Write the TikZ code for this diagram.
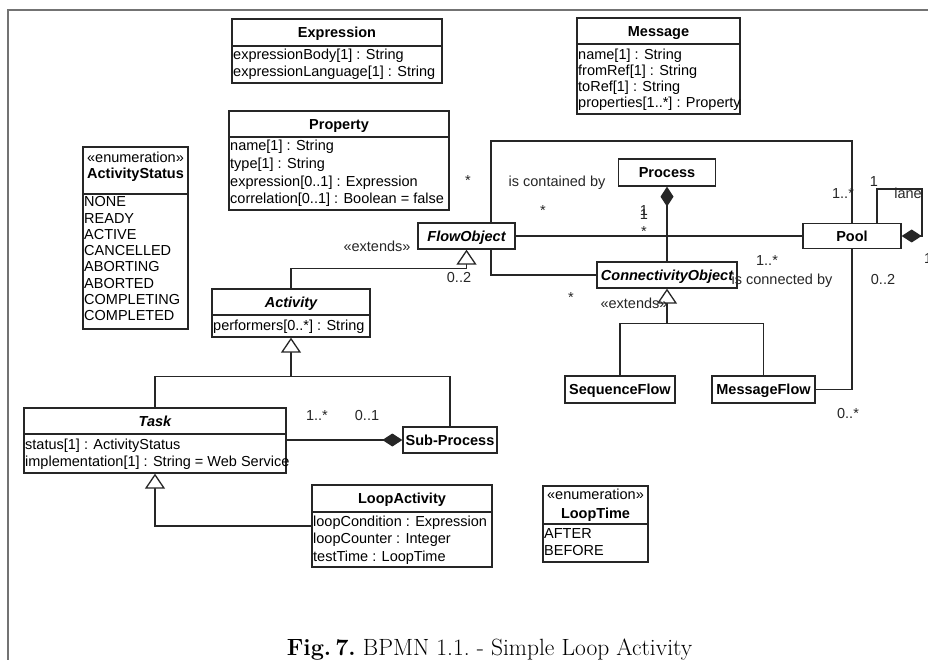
\documentclass[tikz,border=0pt]{standalone}
\usepackage{fontspec}
\newfontfamily\umlfont{Liberation Sans}
\usetikzlibrary{arrows.meta,calc,fit}

\tikzset{
  uml/.style={font=\umlfont\fontsize{14.5}{17}\selectfont, text=black},
  box/.style={draw=black!85, line width=1.3pt, fill=white, inner sep=0pt},
  rule/.style={draw=black!85, line width=1.3pt},
  link/.style={draw=black!85, line width=1.3pt},
  frame/.style={draw=black!55, line width=1.6pt},
  gen/.style={link, -{Triangle[length=15pt, width=20pt, fill=white]}},
  comp/.style={link, -{Diamond[length=20pt, width=13pt]}},
  ctitle/.style={uml, font=\umlfont\fontsize{14.5}{17}\selectfont\bfseries, inner sep=0pt, text height=10.5pt, text depth=0pt},
  stereo/.style={uml, inner sep=0pt, text height=10.5pt, text depth=0pt},
  attr/.style={uml, inner sep=0pt, anchor=base west},
  lbl/.style={uml, text=black!85, inner sep=0pt, text height=10.5pt, text depth=0pt},
  simple/.style={box, ctitle},
}

% class with a title compartment and an attribute compartment
\newcommand{\umlclass}[7]{%
  \node[box, fit={(#2,#3) (#4,#5)}] (#1) {};
  \draw[rule] (#2,#6) -- (#4,#6);
  \node[ctitle] (#1-t) at ({(#2+#4)/2},{(#3+#6)/2}) {#7};
}
% attribute lines: name, left, first baseline, line step, entries
\newcommand{\umlattrs}[5]{%
  \foreach \entry [count=\k from 0] in {#5}
    \node[attr] (#1-a\k) at ({#2+1},{#3+\k*#4}) {\entry};
}

\begin{document}
\begin{tikzpicture}[x=1pt,y=-1pt]
\useasboundingbox (0,0) rectangle (928,660);

% page frame
\draw[frame] (8,660) -- (8,10) -- (930,10);

% simple classes
\node[simple, minimum width=97pt, minimum height=26pt] (fo) at (466.5,236) {\itshape FlowObject};
\node[simple, minimum width=97pt, minimum height=27pt] (proc) at (667,172.5) {Process};
\node[simple, minimum width=140pt, minimum height=26pt] (co) at (667,275) {\itshape ConnectivityObject};
\node[simple, minimum width=98pt, minimum height=25pt] (pool) at (852,236) {Pool};
\node[simple, minimum width=110pt, minimum height=27pt] (sf) at (620,389.5) {SequenceFlow};
\node[simple, minimum width=103pt, minimum height=27pt] (mf) at (763.5,389.5) {MessageFlow};
\node[simple, minimum width=94pt, minimum height=26pt] (sp) at (450,440) {Sub-Process};

% connector corner points
\coordinate (loopL) at (491,141);
\coordinate (foco) at (491,274);
\coordinate (laneL) at (877,189);
\coordinate (laneR) at (922,189);
\coordinate (foj) at ($(fo.south)+(0,19)$);
\coordinate (coj) at ($(co.south)+(0,35)$);

% associations
\draw[link] (fo.north -| loopL) -- (loopL) -| (pool.north);
\draw[link] (fo.east) -- (pool.west);
\draw[link] (fo.south -| foco) |- (co.west);
\draw[link] (pool.south) |- (mf.east);
\draw[comp] (co.north) -- (co.north |- proc.south);
\draw[comp] (pool.north -| laneL) -- (laneL) -- (laneR) |- (pool.east);

% generalisations of ConnectivityObject
\draw[link] (sf.north) |- (coj) -| (mf.north);
\draw[gen] (coj) -- (co.south);

% redraw boxes so line ends stay hidden
\node[simple, minimum width=97pt, minimum height=26pt] (fo) at (466.5,236) {\itshape FlowObject};
\node[simple, minimum width=140pt, minimum height=26pt] (co) at (667,275) {\itshape ConnectivityObject};
\node[simple, minimum width=98pt, minimum height=25pt] (pool) at (852,236) {Pool};

% attribute classes
\umlclass{expr}{232}{19}{442}{83}{46}{Expression}
\umlattrs{expr}{232}{59.5}{17.4}{{expressionBody[1] : String},{expressionLanguage[1] : String}}

\umlclass{prop}{229}{111}{449}{210}{137}{Property}
\umlattrs{prop}{229}{151}{17.6}{{name[1] : String},{type[1] : String},{expression[0..1] : Expression},{correlation[0..1] : Boolean = false}}

\umlclass{msg}{577}{18}{740}{114}{44}{Message}
\umlattrs{msg}{577}{60}{16}{{name[1] : String},{fromRef[1] : String},{toRef[1] : String},{properties[1..*] : Property}}

\node[box, fit={(83,147) (188,329)}] (astat) {};
\draw[rule] (83,194) -- (188,194);
\node[stereo] (astat-s) at (135.5,157.5) {«enumeration»};
\node[ctitle] (astat-t) at (135.5,173) {ActivityStatus};
\umlattrs{astat}{83}{207}{16.2}{{NONE},{READY},{ACTIVE},{CANCELLED},{ABORTING},{ABORTED},{COMPLETING},{COMPLETED}}

\umlclass{act}{212}{289}{370}{337}{315}{\itshape Activity}
\umlattrs{act}{212}{330}{17}{{performers[0..*] : String}}

\umlclass{task}{24}{408}{286}{473}{434}{\itshape Task}
\umlattrs{task}{24}{449}{17}{{status[1] : ActivityStatus},{implementation[1] : String = Web Service}}

\umlclass{loop}{312}{485}{492}{567}{512}{LoopActivity}
\umlattrs{loop}{312}{526}{17.5}{{loopCondition : Expression},{loopCounter : Integer},{testTime : LoopTime}}

\node[box, fit={(543,486) (648,562)}] (ltime) {};
\draw[rule] (543,524) -- (648,524);
\node[stereo] (ltime-s) at (595.5,494.5) {«enumeration»};
\node[ctitle] (ltime-t) at (595.5,513) {LoopTime};
\umlattrs{ltime}{543}{538}{17}{{AFTER},{BEFORE}}

% generalisations and composition among activities
\draw[gen] (act.north) |- (foj) -- (fo.south);
\coordinate (actj) at ($(act.south)+(0,39)$);
\draw[link] (task.north) |- (actj) -| (sp.north);
\draw[gen] (actj) -- (act.south);
\draw[comp] (sp.west -| task.east) -- (sp.west);
\draw[gen] (loop.west) -| (task.south);

% role names and multiplicities
\node[lbl] (m1) at (468,180) {*};
\node[lbl] (r1) at (557,181) {is contained by};
\node[lbl] (m2) at (543,210) {*};
\node[lbl] (m3) at (644,210) {1};
\node[lbl] (m4) at (644,214) {1};
\node[lbl] (m5) at (644,231) {*};
\node[lbl] (m6) at (843,193) {1..*};
\node[lbl] (m7) at (874,181) {1};
\node[lbl] (r2) at (908,193) {lane};
\node[lbl, anchor=west] (m8) at (924,258) {1};
\node[lbl] (s1) at (377,246) {«extends»};
\node[lbl] (m9) at (459,277) {0..2};
\node[lbl] (m10) at (767,260) {1..*};
\node[lbl] (r3) at (782,279) {is connected by};
\node[lbl] (m11) at (883,279) {0..2};
\node[lbl] (m12) at (571,297) {*};
\node[lbl] (s2) at (634,303) {«extends»};
\node[lbl] (m13) at (848,413) {0..*};
\node[lbl] (m14) at (317,415) {1..*};
\node[lbl] (m15) at (367,415) {0..1};

% caption
\node[anchor=base, inner sep=0pt, font=\fontsize{23.5}{28}\selectfont\frenchspacing] (cap) at (489.5,655)
  {\textbf{Fig.\,7.} BPMN 1.1. - Simple Loop Activity};
\end{tikzpicture}
\end{document}
